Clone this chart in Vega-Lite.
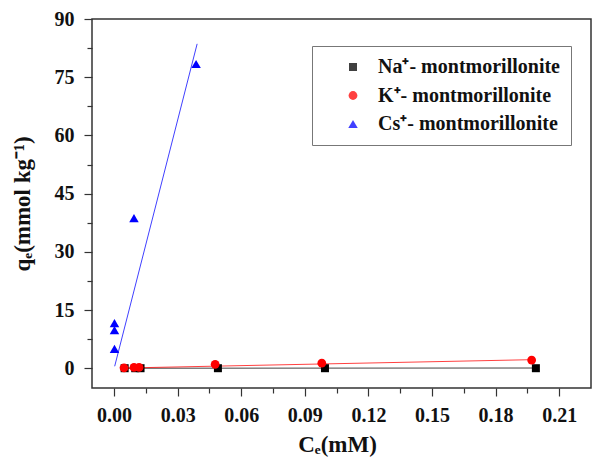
{
  "$schema": "https://vega.github.io/schema/vega-lite/v6.json",
  "autosize": "none",
  "width": 499,
  "height": 369,
  "padding": {"left": 92, "top": 19, "right": 9, "bottom": 79},
  "background": "white",
  "config": {
    "font": "Liberation Serif",
    "view": {"stroke": "#333333", "strokeWidth": 1.5},
    "axis": {
      "domain": false,
      "grid": false,
      "labelFont": "Liberation Serif",
      "labelFontWeight": "bold",
      "labelFontSize": 20,
      "labelColor": "#111111",
      "tickColor": "#333333",
      "tickWidth": 1.2,
      "titleFont": "Liberation Serif",
      "titleFontWeight": "bold",
      "titleFontSize": 23,
      "titleColor": "#111111"
    },
    "legend": {
      "labelFont": "Liberation Serif",
      "titleFont": "Liberation Serif"
    }
  },
  "data": {
    "values": [
      {"series": "Na⁺- montmorillonite", "kind": "point", "x": 0.005, "y": 0},
      {"series": "Na⁺- montmorillonite", "kind": "point", "x": 0.010, "y": 0},
      {"series": "Na⁺- montmorillonite", "kind": "point", "x": 0.0125, "y": 0},
      {"series": "Na⁺- montmorillonite", "kind": "point", "x": 0.049, "y": 0},
      {"series": "Na⁺- montmorillonite", "kind": "point", "x": 0.0995, "y": 0},
      {"series": "Na⁺- montmorillonite", "kind": "point", "x": 0.199, "y": 0},
      {"series": "K⁺- montmorillonite", "kind": "point", "x": 0.0047, "y": 0.1},
      {"series": "K⁺- montmorillonite", "kind": "point", "x": 0.0094, "y": 0.2},
      {"series": "K⁺- montmorillonite", "kind": "point", "x": 0.0118, "y": 0.2},
      {"series": "K⁺- montmorillonite", "kind": "point", "x": 0.0477, "y": 1.0},
      {"series": "K⁺- montmorillonite", "kind": "point", "x": 0.098, "y": 1.3},
      {"series": "K⁺- montmorillonite", "kind": "point", "x": 0.197, "y": 2.1},
      {"series": "Cs⁺- montmorillonite", "kind": "point", "x": 0.0002, "y": 5.0},
      {"series": "Cs⁺- montmorillonite", "kind": "point", "x": 0.0002, "y": 9.8},
      {"series": "Cs⁺- montmorillonite", "kind": "point", "x": 0.0002, "y": 11.6},
      {"series": "Cs⁺- montmorillonite", "kind": "point", "x": 0.0094, "y": 38.7},
      {"series": "Cs⁺- montmorillonite", "kind": "point", "x": 0.0387, "y": 78.4},
      {"series": "Na⁺- montmorillonite", "kind": "fit", "x": 0.005, "y": 0},
      {"series": "Na⁺- montmorillonite", "kind": "fit", "x": 0.199, "y": 0.05},
      {"series": "K⁺- montmorillonite", "kind": "fit", "x": 0.005, "y": 0.05},
      {"series": "K⁺- montmorillonite", "kind": "fit", "x": 0.197, "y": 2.2},
      {"series": "Cs⁺- montmorillonite", "kind": "fit", "x": 0.0003, "y": 0.5},
      {"series": "Cs⁺- montmorillonite", "kind": "fit", "x": 0.0392, "y": 83.6}
    ]
  },
  "encoding": {
    "x": {
      "field": "x", "type": "quantitative",
      "scale": {"domain": [-0.0104, 0.225], "nice": false, "zero": false},
      "axis": {
        "title": "Cₑ(mM)",
        "values": [0, 0.015, 0.03, 0.045, 0.06, 0.075, 0.09, 0.105, 0.12, 0.135, 0.15, 0.165, 0.18, 0.195, 0.21],
        "format": ".2f",
        "labelExpr": "abs(round(datum.value/0.03)*0.03 - datum.value) < 0.000001 ? datum.label : ''",
        "tickSize": {"condition": {"test": "abs(round(datum.value/0.03)*0.03 - datum.value) < 0.000001", "value": 8}, "value": 5},
        "labelPadding": 9,
        "titlePadding": 8,
        "titleX": 245
      }
    },
    "y": {
      "field": "y", "type": "quantitative",
      "scale": {"domain": [-5.1, 90], "nice": false, "zero": false},
      "axis": {
        "title": "qₑ(mmol kg⁻¹)",
        "values": [0, 7.5, 15, 22.5, 30, 37.5, 45, 52.5, 60, 67.5, 75, 82.5, 90],
        "labelExpr": "datum.value % 15 == 0 ? datum.label : ''",
        "tickSize": {"condition": {"test": "datum.value % 15 == 0", "value": 8}, "value": 5},
        "labelPadding": 10,
        "titlePadding": 20
      }
    },
    "color": {
      "field": "series", "type": "nominal",
      "scale": {
        "domain": ["Na⁺- montmorillonite", "K⁺- montmorillonite", "Cs⁺- montmorillonite"],
        "range": ["#000000", "#ff0000", "#0000ff"]
      },
      "legend": {
        "title": null,
        "orient": "none",
        "legendX": 220,
        "legendY": 27,
        "direction": "vertical",
        "strokeColor": "#777777",
        "fillColor": "white",
        "padding": 11,
        "symbolSize": 70,
        "symbolStrokeWidth": 0,
        "labelFont": "Liberation Serif",
        "labelFontWeight": "bold",
        "labelFontSize": 20,
        "labelColor": "#111111",
        "labelLimit": 400,
        "labelOffset": 15,
        "rowPadding": 8.5,
        "offset": 0,
        "symbolOffset": 20
      }
    }
  },
  "layer": [
    {
      "transform": [{"filter": "datum.kind == 'fit'"}],
      "mark": {"type": "line", "strokeWidth": 1, "opacity": 0.75},
      "encoding": {"detail": {"field": "series"}}
    },
    {
      "transform": [{"filter": "datum.kind == 'point'"}],
      "mark": {"type": "point", "filled": true, "opacity": 1},
      "encoding": {
        "shape": {
          "field": "series", "type": "nominal",
          "scale": {
            "domain": ["Na⁺- montmorillonite", "K⁺- montmorillonite", "Cs⁺- montmorillonite"],
            "range": ["square", "circle", "triangle-up"]
          }
        },
        "size": {
          "field": "series", "type": "nominal",
          "scale": {
            "domain": ["Na⁺- montmorillonite", "K⁺- montmorillonite", "Cs⁺- montmorillonite"],
            "range": [64, 90, 160]
          },
          "legend": null
        }
      }
    }
  ]
}
